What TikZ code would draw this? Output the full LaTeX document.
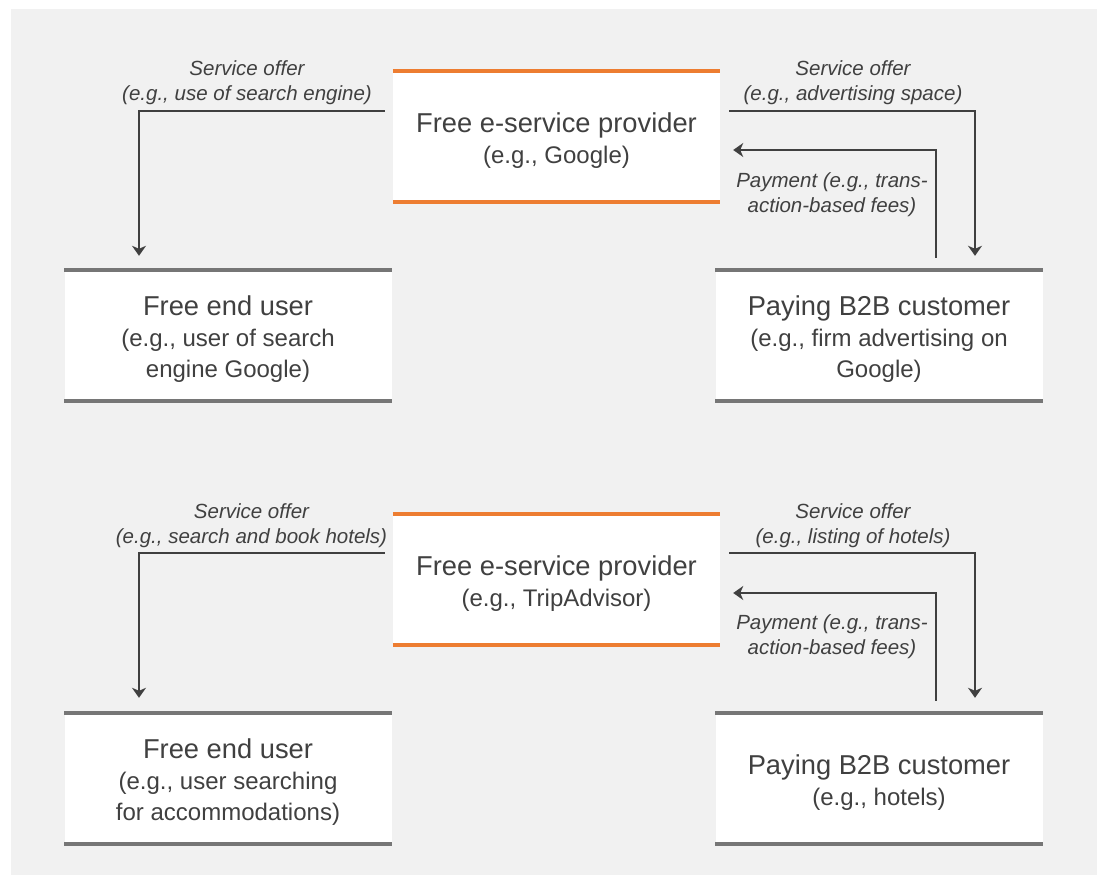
\documentclass[tikz,border=0pt]{standalone}
\usepackage{fontspec}
\setmainfont{Liberation Sans}
\usetikzlibrary{arrows.meta,calc}
\definecolor{bg}{HTML}{F1F1F1}
\definecolor{txt}{HTML}{404040}
\definecolor{org}{HTML}{ED7D31}
\definecolor{bar}{HTML}{767676}
\newcommand{\ttl}[1]{{\fontsize{27.3}{31}\selectfont #1}}
\begin{document}
\begin{tikzpicture}[x=1pt,y=-1pt,
  box/.style={fill=white, minimum width=327pt, minimum height=131pt, inner sep=0pt},
  boxtext/.style={align=center, text=txt, inner sep=0pt, font=\fontsize{24}{31}\selectfont},
  orgbar/.style={draw=org, line width=4pt},
  graybar/.style={draw=bar, line width=4pt},
  arr/.style={draw=txt, line width=1.6pt, -{Stealth[length=10pt,width=14pt,inset=3pt]}},
  lbl/.style={align=center, text=txt, inner sep=0pt, font=\fontsize{20.5}{25}\selectfont\itshape}]
\useasboundingbox (0,0) rectangle (1097,875);
\fill[bg] (11,9) rectangle (1097,875);

% ---------- top diagram ----------
\node[box] (p1) at (556.5,136.5) {};
\node[box] (u1) at (228,335.5) {};
\node[box] (b1) at (879,335.5) {};
\node[boxtext] (p1t) at ($(p1)+(0,4.5)$) {\ttl{Free e-service provider}\\(e.g., Google)};
\node[boxtext] (u1t) at ($(u1)+(0,3.5)$) {\ttl{Free end user}\\(e.g., user of search\\engine Google)};
\node[boxtext] (b1t) at ($(b1)+(0,3.5)$) {\ttl{Paying B2B customer}\\(e.g., firm advertising on\\Google)};
\foreach \n/\s in {p1/orgbar,u1/graybar,b1/graybar}{
  \draw[\s] (\n.north west) -- (\n.north east);
  \draw[\s] (\n.south west) -- (\n.south east);
}
\draw[arr] ($(p1.west)+(-8,-25.5)$) -| ($(u1.north)+(-89,-14)$);
\draw[arr] ($(p1.east)+(9,-25.5)$) -| ($(b1.north)+(96,-14)$);
\draw[arr] ($(b1.north)+(57,-12)$) |- ($(p1.east)+(13,13.5)$);
\node[lbl] (l1) at (247,83) {Service offer\\(e.g., use of search engine)};
\node[lbl] (l2) at (853,83) {Service offer\\(e.g., advertising space)};
\node[lbl] (l3) at (832,195) {Payment (e.g., trans-\\action-based fees)};

% ---------- bottom diagram ----------
\node[box] (p2) at (556.5,579.5) {};
\node[box] (u2) at (228,778.5) {};
\node[box] (b2) at (879,778.5) {};
\node[boxtext] (p2t) at ($(p2)+(0,4.5)$) {\ttl{Free e-service provider}\\(e.g., TripAdvisor)};
\node[boxtext] (u2t) at ($(u2)+(0,3.5)$) {\ttl{Free end user}\\(e.g., user searching\\for accommodations)};
\node[boxtext] (b2t) at ($(b2)+(0,4.5)$) {\ttl{Paying B2B customer}\\(e.g., hotels)};
\foreach \n/\s in {p2/orgbar,u2/graybar,b2/graybar}{
  \draw[\s] (\n.north west) -- (\n.north east);
  \draw[\s] (\n.south west) -- (\n.south east);
}
\draw[arr] ($(p2.west)+(-8,-26.5)$) -| ($(u2.north)+(-89,-15)$);
\draw[arr] ($(p2.east)+(9,-26.5)$) -| ($(b2.north)+(96,-15)$);
\draw[arr] ($(b2.north)+(57,-12)$) |- ($(p2.east)+(13,13.5)$);
\node[lbl] (l4) at (251.5,526) {Service offer\\(e.g., search and book hotels)};
\node[lbl] (l5) at (853,526) {Service offer\\(e.g., listing of hotels)};
\node[lbl] (l6) at (832,637) {Payment (e.g., trans-\\action-based fees)};
\end{tikzpicture}
\end{document}
